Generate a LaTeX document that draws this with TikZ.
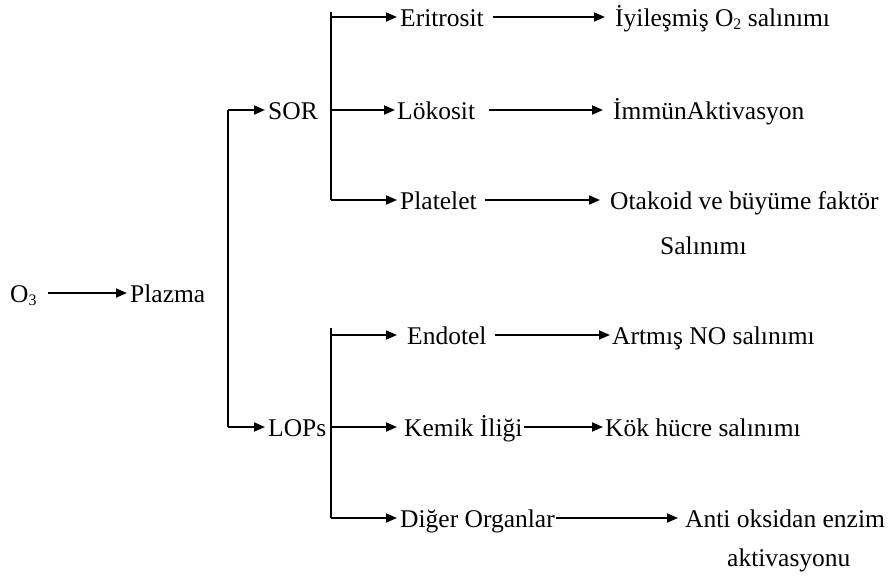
\documentclass[tikz,border=0pt]{standalone}
\usepackage{fontspec}
\setmainfont{Liberation Serif}
\usetikzlibrary{arrows.meta}
\newcommand{\subdig}[1]{\raisebox{-0.3ex}{\fontsize{16}{16}\selectfont #1}}
\tikzset{
  lbl/.style={anchor=west, inner sep=0pt, text height=18pt, text depth=0pt,
              font=\fontsize{25.5}{30}\selectfont},
  arr/.style={draw, line width=1.8pt, -{Triangle[length=11pt,width=9pt]}},
  ln/.style={draw, line width=1.8pt}
}
\begin{document}
\begin{tikzpicture}[x=1pt,y=-1pt]
\useasboundingbox (0,0) rectangle (888,582);
% nodes
\node[lbl] (o3) at (10,293) {O\subdig{3}};
\node[lbl] (plazma) at (130,293) {Plazma};
\node[lbl] (sor) at (268,110) {SOR};
\node[lbl] (lops) at (268,427) {LOPs};
\node[lbl] (eri) at (400,17) {Eritrosit};
\node[lbl] (iyi) at (615,17) {İyileşmiş O\subdig{2} salınımı};
\node[lbl] (lok) at (397,110) {Lökosit};
\node[lbl] (imm) at (613,110) {İmmünAktivasyon};
\node[lbl] (plt) at (400,200) {Platelet};
\node[lbl] (ota) at (610,200) {Otakoid ve büyüme faktör};
\node[lbl] (sal) at (660,245) {Salınımı};
\node[lbl] (endo) at (407,335) {Endotel};
\node[lbl] (art) at (612,335) {Artmış NO salınımı};
\node[lbl] (kem) at (404,427) {Kemik İliği};
\node[lbl] (kok) at (605,427) {Kök hücre salınımı};
\node[lbl] (dig) at (400,518) {Diğer Organlar};
\node[lbl] (anti) at (685,518) {Anti oksidan enzim};
\node[lbl] (akt) at (727,557) {aktivasyonu};
% junction coordinates
\coordinate (j0) at (228,110);
\coordinate (j1) at (228,427);
\coordinate (stop) at (331,12);
\coordinate (sa) at (331,17);
\coordinate (sb) at (331,110);
\coordinate (sc) at (331,200);
\coordinate (ltop) at (331,328);
\coordinate (la) at (331,335);
\coordinate (lb) at (331,427);
\coordinate (lc) at (331,518);
% connectors
\draw[arr, shorten <=11pt, shorten >=3pt] (o3) -- (plazma);
\draw[ln] (j0) -- (j1);
\draw[arr, shorten >=3pt] (j0) -- (sor);
\draw[arr, shorten >=3pt] (j1) -- (lops);
\draw[ln] (stop) -- (sc);
\draw[ln] (ltop) -- (lc);
\draw[arr, shorten >=3pt] (sa) -- (eri);
\draw[arr, shorten >=2pt] (sb) -- (lok);
\draw[arr, shorten >=3pt] (sc) -- (plt);
\draw[arr, shorten >=10pt] (la) -- (endo);
\draw[arr, shorten >=7pt] (lb) -- (kem);
\draw[arr, shorten >=3pt] (lc) -- (dig);
\draw[arr, shorten <=9pt, shorten >=10pt] (eri) -- (iyi);
\draw[arr, shorten <=14pt, shorten >=10pt] (lok) -- (imm);
\draw[arr, shorten <=8pt, shorten >=10pt] (plt) -- (ota);
\draw[arr, shorten <=8pt, shorten >=2pt] (endo) -- (art);
\draw[arr, shorten <=1pt, shorten >=2pt] (kem) -- (kok);
\draw[arr, shorten <=1pt, shorten >=7pt] (dig) -- (anti);
\end{tikzpicture}
\end{document}
